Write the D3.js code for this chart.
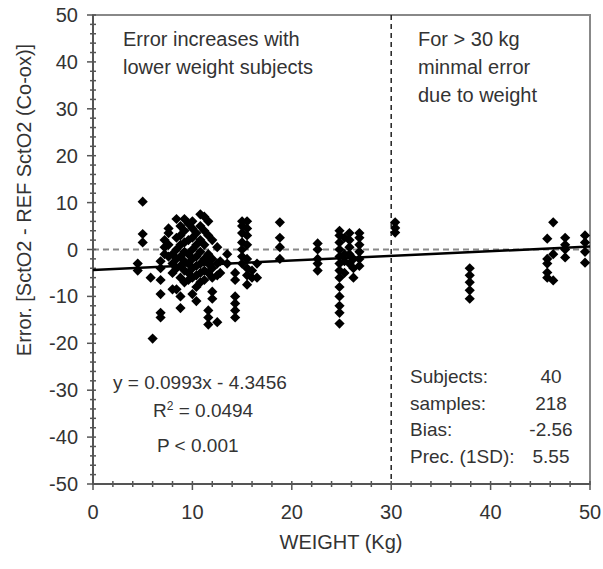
<html>
<head>
<title>Error vs weight</title>
<script src="https://d3js.org/d3.v7.min.js"></script>
<style>
body { margin: 0; background: #fff; font-family: 'Liberation Sans', Arial, sans-serif; }
svg { display: block; }
text { fill: #333; }
</style>
</head>
<body>
<svg width="603" height="569"></svg>
<script>

var weights = [4.5, 5.0, 5.8, 6.0, 6.8, 7.2, 7.6, 8.0, 8.4, 8.8, 9.2, 9.6, 10.0, 10.4, 10.8, 11.2, 11.6, 12.0, 12.5, 12.8, 13.5,
  14.3, 15.0, 15.5, 16.0, 16.5, 18.8, 22.6, 24.8, 25.3, 25.8, 26.2, 26.8, 30.4, 37.9, 45.7, 46.3, 47.5, 49.5];
var errors = [
  [-3, -4.5],
  [10.2, 3.3, 1.5],
  [-6],
  [-19],
  [-2.5, -4, -6.5, -9.5, -13.5, -14.5],
  [-1, 0.5, 2],
  [3.5, 4.5, 1, -1.5],
  [-8.5, -5, -3, -1],
  [6.5, 2.5, 0, -2, -4, -8.5],
  [5, 3, 1, -1.5, -3.5, -6, -10, -12.5],
  [6.5, 4, 1.5, -0.5, -2.5, -4.5, -7],
  [5.5, 2, -1, -3, -5, -6.5],
  [6, 4.5, 2.5, 0, -2, -4, -6, -9.5],
  [3.5, 1, -1.5, -3.5, -5.5, -8, -11],
  [7.5, 5, 2, -0.5, -3, -5, -7],
  [7, 4, 1, -2, -4.5, -6.5],
  [6, 3, -1, -3, -5, -13, -14.5, -16],
  [2, -2, -4, -6, -9, -10.5],
  [0.5, -3, -5.5, -15.5],
  [-2.5, -5],
  [-1, -3],
  [-5, -6.5, -10, -11.5, -13, -14.5],
  [6, 5, 3.5, 1.5, 0, -1.5, -3],
  [6, 4.5, 3, 1, -2, -4, -5.5, -7.5],
  [-4.5, -6],
  [-3, -6],
  [5.8, 2.5, 0.5, -2],
  [1.3, 0, -2, -3, -4.5],
  [4, 3, 1.5, 0, -1.5, -3, -4.5, -6, -8, -10, -12, -13.5, -15.8],
  [2.5, -1, -2.5, -5],
  [3.5, 2, 0.5, -1, -3],
  [-2, -4, -6],
  [3.5, 2.5, 1, -0.5, -2, -3.5],
  [5.8, 4.6, 3.6],
  [-4, -5.5, -7, -8.7, -10.5],
  [2.3, -2, -3, -4.9, -6],
  [5.8, -6.6, -1],
  [2.5, 1, 0, -1.7],
  [3, 1.5, -0.5, -2.8]
];

var xTicks = [0, 10, 20, 30, 40, 50];
var yTicks = [50, 40, 30, 20, 10, 0, -10, -20, -30, -40, -50];

var slope = 0.0993, intercept = -4.3456;
var cutoff = 30;

var noteLeft = ["Error increases with", "lower weight subjects"];
var noteRight = ["For > 30 kg", "minmal error", "due to weight"];
var statNames = ["Subjects:", "samples:", "Bias:", "Prec. (1SD):"];
var statValues = ["40", "218", "-2.56", "5.55"];

var svg = d3.select("svg");

var x = d3.scaleLinear().domain([0, 50]).range([93, 590]);
var y = d3.scaleLinear().domain([-50, 50]).range([484, 15]);

// flatten into points
var points = [];
weights.forEach(function (w, i) {
  errors[i].forEach(function (e) { points.push([w, e]); });
});

// frame
svg.append("rect")
  .attr("x", x(0)).attr("y", y(50))
  .attr("width", x(50) - x(0)).attr("height", y(-50) - y(50))
  .attr("fill", "none").attr("stroke", "#888").attr("stroke-width", 2);

// zero line and 30 kg divider
svg.append("line")
  .attr("x1", x(0)).attr("x2", x(50)).attr("y1", y(0)).attr("y2", y(0))
  .attr("stroke", "#888").attr("stroke-width", 2).attr("stroke-dasharray", "6,4");
svg.append("line")
  .attr("x1", x(cutoff)).attr("x2", x(cutoff)).attr("y1", y(50)).attr("y2", y(-50))
  .attr("stroke", "#222").attr("stroke-width", 1.5).attr("stroke-dasharray", "5,4");

// axes lines
svg.append("line").attr("x1", x(0)).attr("x2", x(0)).attr("y1", y(50)).attr("y2", y(-50))
  .attr("stroke", "#555").attr("stroke-width", 2);
svg.append("line").attr("x1", x(0)).attr("x2", x(50)).attr("y1", y(-50)).attr("y2", y(-50))
  .attr("stroke", "#555").attr("stroke-width", 2);

// ticks: minor every 2, major every 10
svg.selectAll("line.ytick").data(d3.range(-50, 51, 2)).enter().append("line")
  .attr("class", "ytick")
  .attr("x1", function (d) { return x(0) - (d % 10 == 0 ? 6 : 3); })
  .attr("x2", function (d) { return x(0) + 3; })
  .attr("y1", function (d) { return y(d); }).attr("y2", function (d) { return y(d); })
  .attr("stroke", "#555").attr("stroke-width", 1.5);
svg.selectAll("line.xtick").data(d3.range(0, 51, 2)).enter().append("line")
  .attr("class", "xtick")
  .attr("x1", function (d) { return x(d); }).attr("x2", function (d) { return x(d); })
  .attr("y1", function (d) { return y(-50) - 3; })
  .attr("y2", function (d) { return y(-50) + (d % 10 == 0 ? 6 : 3); })
  .attr("stroke", "#555").attr("stroke-width", 1.5);

// tick labels
svg.selectAll("text.ylab").data(yTicks).enter().append("text")
  .attr("class", "ylab")
  .attr("x", 78).attr("y", function (d) { return y(d) + 7; })
  .attr("text-anchor", "end").attr("font-size", 20)
  .text(function (d) { return d; });
svg.selectAll("text.xlab").data(xTicks).enter().append("text")
  .attr("class", "xlab")
  .attr("x", function (d) { return x(d); }).attr("y", 519)
  .attr("text-anchor", "middle").attr("font-size", 20)
  .text(function (d) { return d; });

// axis titles
svg.append("text").attr("x", 341).attr("y", 549)
  .attr("text-anchor", "middle").attr("font-size", 20).text("WEIGHT (Kg)");
svg.append("text").attr("transform", "translate(31,200) rotate(-90)")
  .attr("text-anchor", "middle").attr("font-size", 20)
  .text("Error. [SctO2 - REF SctO2 (Co-ox)]");

// regression line
svg.append("line")
  .attr("x1", x(0)).attr("y1", y(intercept))
  .attr("x2", x(50)).attr("y2", y(slope * 50 + intercept))
  .attr("stroke", "#000").attr("stroke-width", 2.5);

// points
var diamond = d3.symbol().type(d3.symbolSquare).size(52);
svg.selectAll("path.pt").data(points).enter().append("path")
  .attr("class", "pt")
  .attr("d", diamond)
  .attr("transform", function (d) { return "translate(" + x(d[0]) + "," + y(d[1]) + ") rotate(45)"; })
  .attr("fill", "#000");

// notes
svg.selectAll("text.nl").data(noteLeft).enter().append("text")
  .attr("class", "nl").attr("x", 123).attr("y", function (d, i) { return 46 + i * 28; })
  .attr("font-size", 20).text(function (d) { return d; });
svg.selectAll("text.nr").data(noteRight).enter().append("text")
  .attr("class", "nr").attr("x", 418).attr("y", function (d, i) { return 46 + i * 28; })
  .attr("font-size", 20).text(function (d) { return d; });

// fit text
svg.append("text").attr("x", 113).attr("y", 389).attr("font-size", 19)
  .text("y = " + slope + "x - " + Math.abs(intercept));
var r2 = svg.append("text").attr("x", 153).attr("y", 417).attr("font-size", 19);
r2.append("tspan").text("R");
r2.append("tspan").attr("dy", -7).attr("font-size", 12).text("2");
r2.append("tspan").attr("dy", 7).text(" = 0.0494");
svg.append("text").attr("x", 157).attr("y", 452).attr("font-size", 19).text("P < 0.001");

// stats
svg.selectAll("text.sn").data(statNames).enter().append("text")
  .attr("class", "sn").attr("x", 410).attr("y", function (d, i) { return 383 + i * 26.5; })
  .attr("font-size", 19).text(function (d) { return d; });
svg.selectAll("text.sv").data(statValues).enter().append("text")
  .attr("class", "sv").attr("x", 551).attr("y", function (d, i) { return 383 + i * 26.5; })
  .attr("text-anchor", "middle").attr("font-size", 19).text(function (d) { return d; });

</script>
</body>
</html>
